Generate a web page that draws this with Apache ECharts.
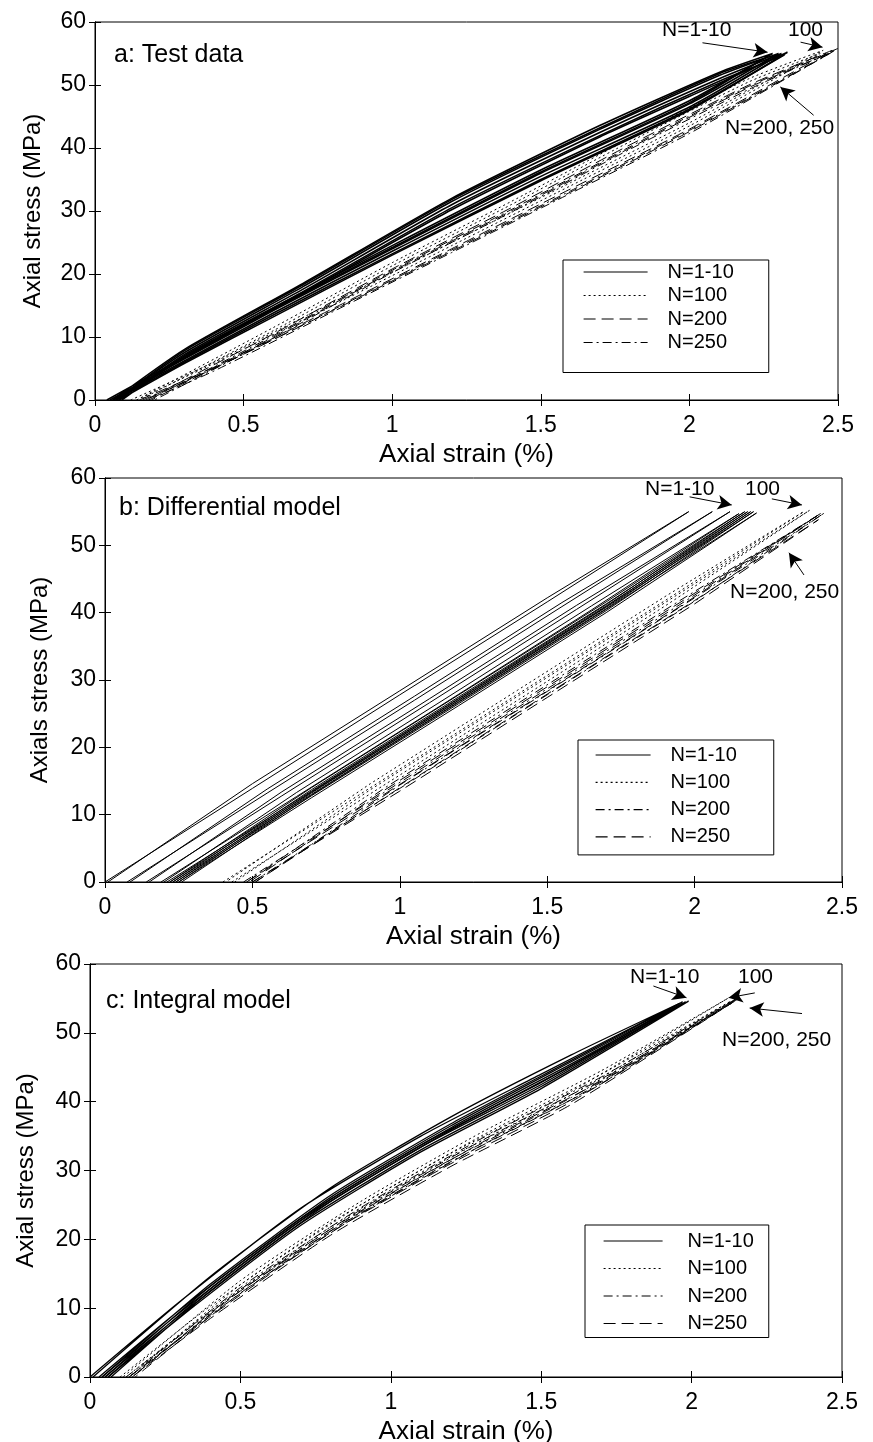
<!DOCTYPE html>
<html>
<head>
<meta charset="utf-8">
<title>Axial stress vs strain</title>
<script src="https://cdn.jsdelivr.net/npm/echarts@6/dist/echarts.min.js"></script>
<style>
  body { margin: 0; background: #fff; }
  .panel { position: absolute; left: 0; width: 873px; }
</style>
</head>
<body>
<div id="chartA" class="panel" style="top:0;height:480px"></div>
<div id="chartB" class="panel" style="top:450px;height:500px"></div>
<div id="chartC" class="panel" style="top:930px;height:512px"></div>
<script>
// axis ticks
var strainTicks = [0, 0.5, 1, 1.5, 2, 2.5];
var stressTicks = [0, 10, 20, 30, 40, 50, 60];

// a: test data, each loop = [strain %, stress MPa]
var aN1_10 = [
    [[0.05,0],[0.3,6.5],[0.6,14.2],[1.0,24],[1.5,36],[2.0,47],[2.3,55],[2.1,51.5],[1.7,43],[1.2,31.5],[0.7,18],[0.3,7.5],[0.07,0]],
    [[0.06,0],[0.3,6.2],[0.6,13.8],[1.0,23.6],[1.5,35.5],[2.0,46.5],[2.31,55],[2.1,51],[1.7,42.5],[1.2,31],[0.7,17.6],[0.3,7.2],[0.08,0]],
    [[0.07,0],[0.3,6],[0.6,13.5],[1.0,23.2],[1.5,35],[2.0,46.2],[2.32,54.8],[2.1,50.6],[1.7,42],[1.2,30.5],[0.7,17.2],[0.3,7],[0.08,0]],
    [[0.04,0],[0.3,6.8],[0.6,14.6],[1.0,24.5],[1.5,36.5],[2.0,47.5],[2.28,55],[2.1,52],[1.7,43.6],[1.2,32],[0.7,18.5],[0.3,8],[0.06,0]],
    [[0.08,0],[0.3,5.8],[0.6,13.2],[1.0,23],[1.5,34.8],[2.0,46],[2.33,55.2],[2.1,50.3],[1.7,41.8],[1.2,30.2],[0.7,17],[0.3,6.8],[0.09,0]],
    [[0.06,0],[0.3,6.6],[0.6,14.4],[1.0,24.2],[1.5,36.2],[2.0,47.2],[2.25,54.2],[2.1,51.8],[1.7,43.2],[1.2,31.8],[0.7,18.3],[0.3,7.8],[0.07,0]]
];
var aN100 = [
    [[0.12,0],[0.4,6],[0.8,15.5],[1.2,25],[1.6,34.5],[2.0,44],[2.45,55.5],[2.2,51],[1.8,41.5],[1.4,31.5],[1.0,21.8],[0.6,11.5],[0.14,0]],
    [[0.14,0],[0.4,5.8],[0.8,15],[1.2,24.5],[1.6,34],[2.0,43.5],[2.44,55],[2.2,50.5],[1.8,41],[1.4,31],[1.0,21.3],[0.6,11],[0.15,0]]
];
var aN200 = [
    [[0.15,0],[0.4,5.2],[0.8,14.5],[1.2,24],[1.6,33.5],[2.0,43],[2.48,55.5],[2.2,50],[1.8,40.5],[1.4,30.5],[1.0,20.8],[0.6,10.5],[0.17,0]],
    [[0.17,0],[0.4,5],[0.8,14.2],[1.2,23.6],[1.6,33],[2.0,42.6],[2.48,55.2],[2.2,49.6],[1.8,40],[1.4,30],[1.0,20.4],[0.6,10],[0.19,0]]
];
var aN250 = [
    [[0.16,0],[0.4,5],[0.8,14.3],[1.2,23.8],[1.6,33.2],[2.0,42.8],[2.5,55.8],[2.2,49.8],[1.8,40.2],[1.4,30.2],[1.0,20.6],[0.6,10.2],[0.18,0]],
    [[0.18,0],[0.4,4.6],[0.8,14],[1.2,23.4],[1.6,32.8],[2.0,42.3],[2.49,55.5],[2.2,49.3],[1.8,39.8],[1.4,29.8],[1.0,20.2],[0.6,9.8],[0.2,0]]
];

// b: differential model
var bN1_10 = [
    [[0,0],[0.5,13.9],[1.0,27.8],[1.5,41.6],[1.98,55],[1.5,42.2],[1.0,28.4],[0.5,14.6],[0.01,0]],
    [[0.075,0],[0.55,13.2],[1.05,27],[1.55,40.9],[2.06,55],[1.55,41.5],[1.05,27.6],[0.55,13.8],[0.085,0]],
    [[0.14,0],[0.6,12.8],[1.1,26.6],[1.6,40.5],[2.12,55],[1.6,41.1],[1.1,27.2],[0.6,13.4],[0.15,0]],
    [[0.19,0],[0.65,12.7],[1.15,26.5],[1.65,40.4],[2.15,54.7],[1.65,41],[1.15,27.1],[0.65,13.3],[0.2,0]],
    [[0.21,0],[0.7,13.5],[1.2,27.3],[1.7,41.2],[2.17,55],[1.7,41.6],[1.2,27.8],[0.7,14],[0.22,0]],
    [[0.22,0],[0.7,13.3],[1.2,27],[1.7,40.9],[2.18,55],[1.7,41.3],[1.2,27.5],[0.7,13.7],[0.23,0]],
    [[0.23,0],[0.7,13],[1.2,26.8],[1.7,40.6],[2.19,55],[1.7,41],[1.2,27.2],[0.7,13.4],[0.24,0]],
    [[0.24,0],[0.7,12.8],[1.2,26.5],[1.7,40.3],[2.2,55],[1.7,40.8],[1.2,27],[0.7,13.2],[0.25,0]],
    [[0.25,0],[0.7,12.5],[1.2,26.2],[1.7,40],[2.21,54.8],[1.7,40.5],[1.2,26.7],[0.7,12.9],[0.26,0]]
];
var bN100 = [
    [[0.40,0],[0.9,14],[1.4,27.9],[1.9,41.8],[2.37,55],[1.9,42.4],[1.4,28.5],[0.9,14.6],[0.41,0]],
    [[0.43,0],[0.9,13.1],[1.4,27],[1.9,41],[2.39,55.2],[1.9,41.5],[1.4,27.6],[0.9,13.7],[0.44,0]]
];
var bN200 = [
    [[0.47,0],[0.95,13.4],[1.45,27.3],[1.95,41.2],[2.42,54.5],[1.95,41.8],[1.45,27.9],[0.95,14],[0.48,0]],
    [[0.5,0],[1.0,13.9],[1.5,27.8],[2.0,41.7],[2.44,54.8],[2.0,42.2],[1.5,28.3],[1.0,14.4],[0.51,0]]
];
var bN250 = [
    [[0.48,0],[0.95,13.1],[1.45,27],[1.95,40.9],[2.43,54.8],[1.95,41.5],[1.45,27.6],[0.95,13.7],[0.49,0]],
    [[0.5,0],[1.0,13.5],[1.5,27.4],[2.0,41.3],[2.42,53.8],[2.0,41.8],[1.5,27.9],[1.0,14],[0.51,0]]
];

// c: integral model
var cN1_10 = [
    [[0,0],[0.3,11],[0.7,24.5],[1.1,35],[1.5,44],[1.96,54.3],[1.6,46.8],[1.2,37.8],[0.8,27.5],[0.4,14.6],[0.01,0]],
    [[0.03,0],[0.3,9.8],[0.7,23],[1.1,33.7],[1.5,42.8],[1.97,54.5],[1.6,46],[1.2,36.8],[0.8,26.4],[0.4,13.5],[0.04,0]],
    [[0.05,0],[0.3,9],[0.7,22.3],[1.1,33],[1.5,42.2],[1.98,54.5],[1.6,45.5],[1.2,36.2],[0.8,25.8],[0.4,12.8],[0.06,0]],
    [[0.04,0],[0.3,9.4],[0.7,22.7],[1.1,33.4],[1.5,42.5],[1.97,54.3],[1.6,45.8],[1.2,36.5],[0.8,26.1],[0.4,13.2],[0.05,0]],
    [[0.06,0],[0.3,8.7],[0.7,22],[1.1,32.7],[1.5,41.9],[1.99,54.6],[1.6,45.2],[1.2,35.9],[0.8,25.5],[0.4,12.5],[0.07,0]]
];
var cN100 = [
    [[0.1,0],[0.4,10.3],[0.8,22.4],[1.2,32.5],[1.6,41.5],[2.12,55],[1.7,44.5],[1.3,35.5],[0.9,25.5],[0.5,14],[0.11,0]],
    [[0.12,0],[0.4,9.6],[0.8,21.8],[1.2,32],[1.6,41],[2.13,54.6],[1.7,44],[1.3,35],[0.9,25],[0.5,13.4],[0.13,0]]
];
var cN200 = [
    [[0.12,0],[0.4,9.4],[0.8,21.5],[1.2,31.6],[1.6,40.6],[2.15,55],[1.7,43.6],[1.3,34.6],[0.9,24.6],[0.5,13],[0.13,0]],
    [[0.13,0],[0.4,9],[0.8,21.2],[1.2,31.3],[1.6,40.3],[2.14,54.5],[1.7,43.3],[1.3,34.3],[0.9,24.3],[0.5,12.7],[0.14,0]]
];
var cN250 = [
    [[0.13,0],[0.4,8.8],[0.8,21],[1.2,31],[1.6,40],[2.16,55.2],[1.7,43],[1.3,34],[0.9,24],[0.5,12.5],[0.14,0]],
    [[0.14,0],[0.4,8.5],[0.8,20.6],[1.2,30.6],[1.6,39.6],[2.15,54.8],[1.7,42.6],[1.3,33.6],[0.9,23.7],[0.5,12.2],[0.15,0]]
];

var FONT = "'Liberation Sans', Arial, sans-serif";
var SOLID = 'solid', DOT = [2, 3], LDASH = [12, 6], DASHDOT = [9, 4, 2, 4];

function loopSeries(name, loops, dash, width, smooth) {
    return loops.map(function (loop) {
        return {
            type: 'line', name: name, data: loop, smooth: smooth || false,
            symbol: 'none', showSymbol: false, silent: true,
            itemStyle: {color: '#000'},
            lineStyle: {color: '#000', width: width || 1, type: dash}
        };
    });
}

function axes(grid) {
    var tick = {inside: true, length: 6, lineStyle: {color: '#000'}};
    var line = {show: true, lineStyle: {color: '#000'}};
    return {
        xAxis: [
            {type: 'value', min: 0, max: 2.5, interval: 0.5, axisLine: line, axisTick: tick,
             splitLine: {show: false}, name: 'Axial strain (%)', nameLocation: 'middle', nameGap: grid.xGap,
             nameTextStyle: {fontSize: 26, color: '#000', fontFamily: FONT},
             axisLabel: {fontSize: 23, color: '#000', fontFamily: FONT, margin: 14}},
            {type: 'value', position: 'top', min: 0, max: 2.5, interval: 0.5, axisLine: line, axisTick: tick,
             splitLine: {show: false}, axisLabel: {show: false}}
        ],
        yAxis: [
            {type: 'value', min: 0, max: 60, interval: 10, axisLine: line, axisTick: tick,
             splitLine: {show: false}, name: grid.yName, nameLocation: 'middle', nameGap: grid.yGap,
             nameTextStyle: {fontSize: 24, color: '#000', fontFamily: FONT},
             axisLabel: {fontSize: 23, color: '#000', fontFamily: FONT, margin: 9}},
            {type: 'value', position: 'right', min: 0, max: 60, interval: 10, axisLine: line, axisTick: tick,
             splitLine: {show: false}, axisLabel: {show: false}}
        ]
    };
}

function arrows(list) {
    return {
        silent: true, animation: false,
        symbol: ['none', 'arrow'], symbolSize: [11, 14],
        lineStyle: {color: '#000', width: 1, type: 'solid'},
        itemStyle: {color: '#000'},
        label: {show: false},
        data: list.map(function (a) { return [{coord: a[0]}, {coord: a[1]}]; })
    };
}

function txt(x, y, s, size) {
    return {type: 'text', left: x, top: y,
        style: {text: s, font: (size || 21) + 'px ' + FONT, fill: '#000'}};
}

function makeChart(el, cfg) {
    var chart = echarts.init(document.getElementById(el));
    var ax = axes(cfg);
    var series = [].concat(
        loopSeries('N=1-10', cfg.n1, SOLID, cfg.w1, cfg.smooth),
        loopSeries('N=100', cfg.n100, DOT, 1, cfg.smooth),
        loopSeries('N=200', cfg.n200, cfg.d200, 1, cfg.smooth),
        loopSeries('N=250', cfg.n250, cfg.d250, 1, cfg.smooth)
    );
    series[0].markLine = arrows(cfg.arrows);
    var option = {
        animation: false,
        grid: {left: cfg.left, top: cfg.top, width: cfg.width, height: cfg.height,
               outerBoundsMode: 'none', containLabel: false,
               show: true, borderColor: '#000', borderWidth: 1},
        xAxis: ax.xAxis,
        yAxis: ax.yAxis,
        legend: {
            orient: 'vertical', left: cfg.legend.left, top: cfg.legend.top,
            padding: cfg.legend.padding, itemGap: cfg.legend.gap,
            itemWidth: cfg.legend.iw, itemHeight: 12,
            borderColor: '#000', borderWidth: 1, backgroundColor: '#fff',
            itemStyle: {opacity: 0},
            lineStyle: {color: '#000', width: 1.2, opacity: 1},
            data: ['N=1-10', 'N=100', 'N=200', 'N=250'],
            textStyle: {fontSize: 20, color: '#000', fontFamily: FONT, padding: [0, 0, 0, cfg.legend.tp]}
        },
        graphic: cfg.texts,
        series: series
    };
    chart.setOption(option);
}

makeChart('chartA', {
    left: 95, top: 22, width: 743, height: 378, xGap: 37, yGap: 50, yName: 'Axial stress (MPa)',
    n1: aN1_10, n100: aN100, n200: aN200, n250: aN250, w1: 1.6, smooth: 0.2, d200: LDASH, d250: DASHDOT,
    legend: {left: 563, top: 260, padding: [2, 35, 20, 20], gap: 3.5, iw: 64, tp: 15},
    arrows: [[[2.044, 56.7], [2.263, 55.2]], [[2.374, 56.8], [2.448, 56.0]], [[2.418, 45.2], [2.306, 49.7]]],
    texts: [txt(114, 43, 'a: Test data', 25), txt(662, 20, 'N=1-10'), txt(788, 20, '100'),
            txt(725, 118, 'N=200, 250')]
});

// chart B div starts at page y 450
makeChart('chartB', {
    left: 105, top: 28, width: 737, height: 404, xGap: 25, yGap: 53, yName: 'Axials stress (MPa)',
    n1: bN1_10, n100: bN100, n200: bN200, n250: bN250, w1: 1, smooth: 0, d200: DASHDOT, d250: LDASH,
    legend: {left: 578, top: 290, padding: [5, 37, 8, 17], gap: 7.3, iw: 55, tp: 15},
    arrows: [[[1.983, 57.2], [2.126, 56.0]], [[2.262, 56.9], [2.364, 56.0]], [[2.371, 45.6], [2.320, 48.9]]],
    texts: [txt(119, 46, 'b: Differential model', 25), txt(645, 29, 'N=1-10'), txt(745, 29, '100'),
            txt(730, 132, 'N=200, 250')]
});

// chart C div starts at page y 930
makeChart('chartC', {
    left: 90, top: 34, width: 752, height: 413, xGap: 34, yGap: 52, yName: 'Axial stress (MPa)',
    n1: cN1_10, n100: cN100, n200: cN200, n250: cN250, w1: 1.3, smooth: 0.2, d200: DASHDOT, d250: LDASH,
    legend: {left: 585, top: 295, padding: [6, 15, 4, 18], gap: 7.5, iw: 59, tp: 20},
    arrows: [[[1.873, 56.8], [1.983, 55.1]], [[2.21, 55.8], [2.123, 55.1]], [[2.367, 52.8], [2.193, 53.6]]],
    texts: [txt(106, 59, 'c: Integral model', 25), txt(630, 37, 'N=1-10'), txt(738, 37, '100'),
            txt(722, 100, 'N=200, 250')]
});
</script>
</body>
</html>
